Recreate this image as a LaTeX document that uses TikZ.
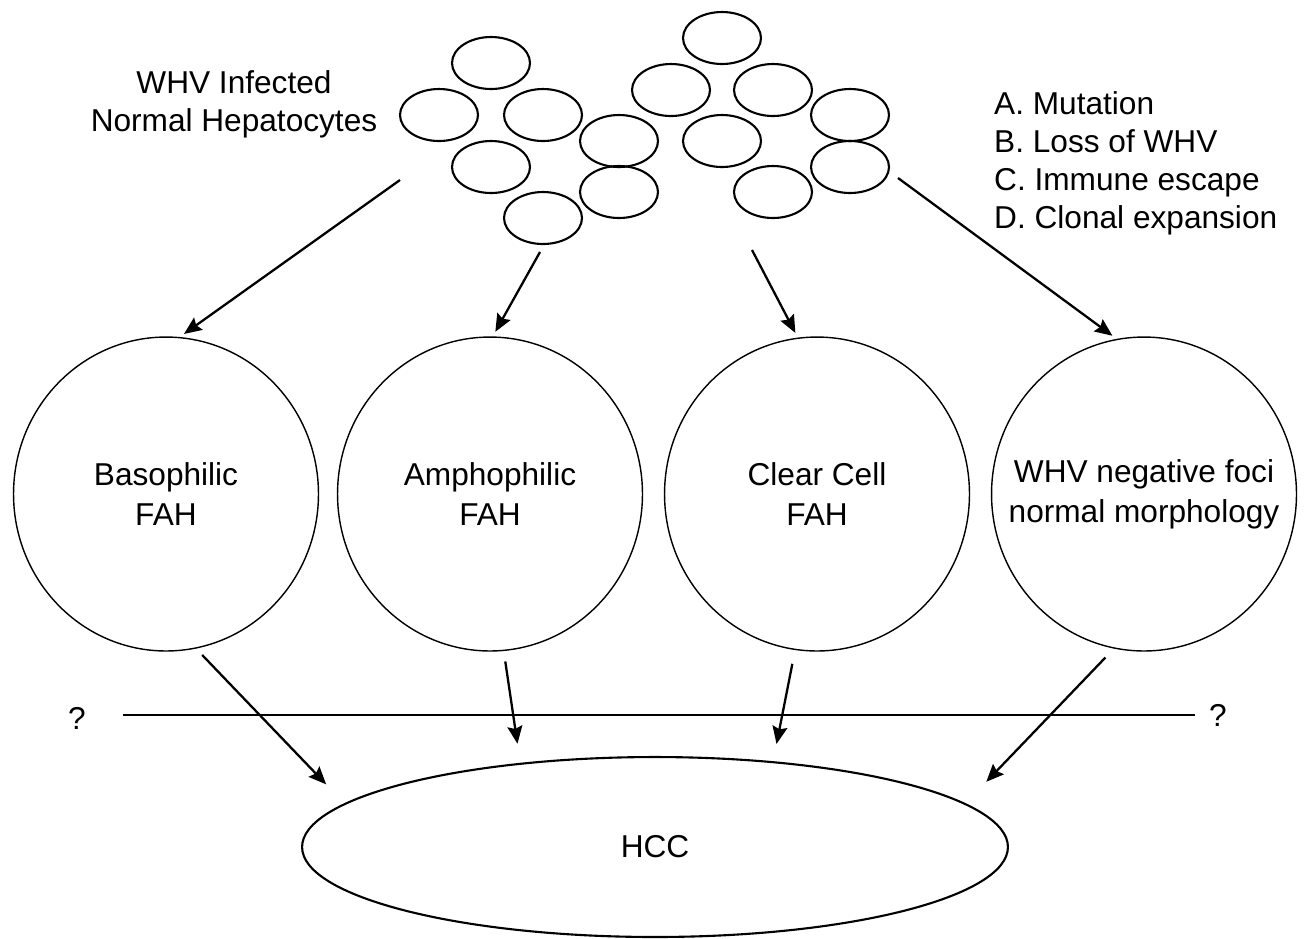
\documentclass[tikz,border=0pt]{standalone}
\usepackage{fontspec}
\setmainfont{Liberation Sans}
\usetikzlibrary{arrows.meta,shapes.geometric}
\begin{document}
\begin{tikzpicture}[x=0.02cm, y=-0.02cm, line join=round, font=\fontsize{18}{21.6}\selectfont,
	>={Stealth[length=10pt,width=8.5pt,inset=1.5pt]},
	cell/.style={draw, ellipse, line width=1.2pt, minimum width=1.56cm, minimum height=1.04cm, inner sep=0pt},
	focus/.style={draw, ellipse, line width=.8pt, minimum width=6.1cm, minimum height=6.28cm, inner sep=-1.2cm, align=center, font=\fontsize{18}{22.7}\selectfont},
	arr/.style={->, line width=1.3pt}]
	\useasboundingbox (0,0) rectangle (1304,938);
	% hepatocytes
	\foreach \n/\cx/\cy in {1/491/63, 2/439/115, 3/543/115, 4/491/167, 5/543/218, 6/619/141, 7/619/192,
		8/722/38, 9/671/90, 10/773/90, 11/722/141, 12/773/192, 13/850/115, 14/850/167}
	\node[cell] (c\n) at (\cx,\cy) {};
	\node[align=center] (inf) at (234,104) {WHV Infected\\Normal Hepatocytes};
	\node[align=left, anchor=west] (steps) at (988,163) {A. Mutation\\B. Loss of WHV\\C. Immune escape\\D. Clonal expansion};
	% foci
	\node[focus] (f1) at (166,494) {Basophilic\\FAH};
	\node[focus] (f2) at (490,494) {Amphophilic\\FAH};
	\node[focus] (f3) at (817,494) {Clear Cell\\FAH};
	\node[focus] (f4) at (1144,494) {WHV negative foci\\normal morphology};
	\node[draw, ellipse, line width=1.2pt, minimum width=14.12cm, minimum height=3.6cm] (hcc) at (655,847) {HCC};
	\path 
	(400,180) coordinate (t1)
	(540,252) coordinate (t2)
	(752,250) coordinate (t3)
	(898,178) coordinate (t4)
	(123,715) coordinate (l1)
	(1195,715) coordinate (l2)
	;
	\node (q1) at (77,718) {?};
	\node (q2) at (1218,715) {?};
	\draw[line width=1.3pt] (l1) -- (l2);
	\draw[arr, shorten >=3pt] (t1) -- (f1.85);
	\draw[arr, shorten >=3pt] (t2) -- (f2.89);
	\draw[arr, shorten >=3pt] (t3) -- (f3.97);
	\draw[arr, shorten >=3pt] (t4) -- (f4.100);
	\draw[arr, shorten <=5pt, shorten >=15pt] (f1.-79) -- (hcc.172);
	\draw[arr, shorten <=6pt, shorten >=11pt] (f2.-85) -- (hcc.148);
	\draw[arr, shorten <=8pt, shorten >=10pt] (f3.-98) -- (hcc.36);
	\draw[arr, shorten <=7pt, shorten >=17pt] (f4.-101) -- (hcc.8);
\end{tikzpicture}
\end{document}
